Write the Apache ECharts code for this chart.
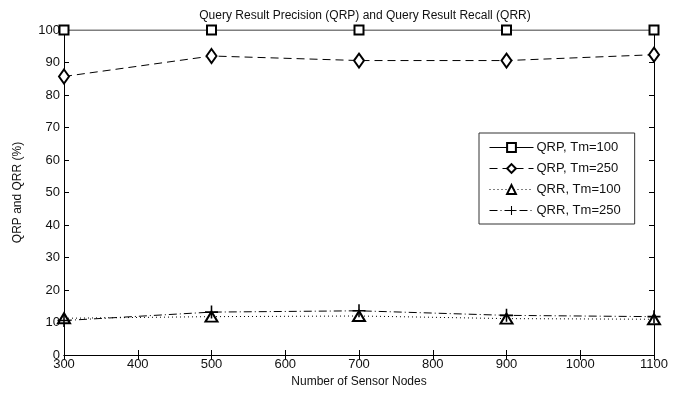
<!DOCTYPE html>
<html><head><meta charset="utf-8">
<script src="https://cdn.jsdelivr.net/npm/echarts@6/dist/echarts.min.js"></script>
<style>html,body{margin:0;padding:0;background:#fff}#c{width:681px;height:399px}</style>
</head><body><div id="c"></div>
<script>
const nodes = [300, 500, 700, 900, 1100];
const qrpTm100 = [100, 100, 100, 100, 100];
const qrpTm250 = [85.7, 92, 90.6, 90.6, 92.4];
const qrrTm100 = [11.3, 11.8, 12.0, 11.2, 11.0];
const qrrTm250 = [10.6, 13.2, 13.6, 12.2, 11.8];
const seriesNames = ['QRP, Tm=100', 'QRP, Tm=250', 'QRR, Tm=100', 'QRR, Tm=250'];
const xTicks = {min: 300, max: 1100, step: 100};
const yTicks = {min: 0, max: 100, step: 10};

const pair = arr => nodes.map((x, i) => [x, arr[i]]);
const font = 'Liberation Sans, Arial, sans-serif';
const plus = 'path://M4.4,0h1.2v4.4h4.4v1.2h-4.4v4.4h-1.2v-4.4h-4.4v-1.2h4.4z';

const chart = echarts.init(document.getElementById('c'), null, {renderer: 'canvas'});
const baseAxisLine = {show: true, lineStyle: {color: '#000', width: 1}};
chart.setOption({
  animation: false,
  backgroundColor: '#fff',
  title: {
    text: 'Query Result Precision (QRP) and Query Result Recall (QRR)',
    left: 360, top: 5, textAlign: 'center',
    textStyle: {fontFamily: font, fontSize: 12, fontWeight: 'normal', color: '#111'}
  },
  grid: {left: 64, right: 27, top: 30, bottom: 44},
  legend: {
    orient: 'vertical', left: 479, top: 133, width: 156,
    padding: [8, 14, 7, 10], itemGap: 8,
    borderColor: '#333', borderWidth: 1, backgroundColor: '#fff',
    itemWidth: 44, itemHeight: 11,
    lineStyle: {width: 1},
    textStyle: {fontFamily: font, fontSize: 13, color: '#111', padding: [0,0,0,-2]},
    data: seriesNames
  },
  xAxis: [{
    type: 'value', min: xTicks.min, max: xTicks.max, interval: xTicks.step,
    name: 'Number of Sensor Nodes', nameLocation: 'middle', nameGap: 21,
    nameTextStyle: {fontFamily: font, fontSize: 12, color: '#111'},
    axisLine: baseAxisLine, axisTick: {inside: true, length: 5, lineStyle: {color: '#000'}},
    axisLabel: {fontFamily: font, fontSize: 13, color: '#111', margin: 3, formatter: v => String(v)},
    splitLine: {show: false}
  }, {
    type: 'value', position: 'top', min: xTicks.min, max: xTicks.max, interval: xTicks.step,
    axisLine: baseAxisLine, axisTick: {inside: true, length: 5, lineStyle: {color: '#000'}},
    axisLabel: {show: false}, splitLine: {show: false}
  }],
  yAxis: [{
    type: 'value', min: yTicks.min, max: yTicks.max, interval: yTicks.step,
    name: 'QRP and QRR (%)', nameLocation: 'middle', nameGap: 40, nameRotate: 90,
    nameTextStyle: {fontFamily: font, fontSize: 12, color: '#111'},
    axisLine: baseAxisLine, axisTick: {inside: true, length: 5, lineStyle: {color: '#000'}},
    axisLabel: {fontFamily: font, fontSize: 13, color: '#111', margin: 4, formatter: v => String(v)},
    splitLine: {show: false}
  }, {
    type: 'value', position: 'right', min: yTicks.min, max: yTicks.max, interval: yTicks.step,
    axisLine: baseAxisLine, axisTick: {inside: true, length: 5, lineStyle: {color: '#000'}},
    axisLabel: {show: false}, splitLine: {show: false}
  }],
  series: [
    {name: seriesNames[0], type: 'line', data: pair(qrpTm100), symbol: 'emptyRect', symbolSize: 9,
     lineStyle: {color: '#000', width: 1, type: 'solid'},
     itemStyle: {color: '#000', borderColor: '#000', borderWidth: 1}},
    {name: seriesNames[1], type: 'line', data: pair(qrpTm250), symbol: 'emptyDiamond', symbolSize: [10, 14],
     lineStyle: {color: '#000', width: 1, type: [8, 5]},
     itemStyle: {color: '#000', borderColor: '#000', borderWidth: 1}},
    {name: seriesNames[2], type: 'line', data: pair(qrrTm100), symbol: 'emptyTriangle', symbolSize: [12, 10],
     lineStyle: {color: '#000', width: 1, type: [1, 3]},
     itemStyle: {color: '#000', borderColor: '#000', borderWidth: 2.5}},
    {name: seriesNames[3], type: 'line', data: pair(qrrTm250), symbol: plus, symbolSize: 13,
     lineStyle: {color: '#000', width: 1, type: [8, 3, 1, 3]},
     itemStyle: {color: '#000', borderWidth: 0}}
  ]
});
</script></body></html>
